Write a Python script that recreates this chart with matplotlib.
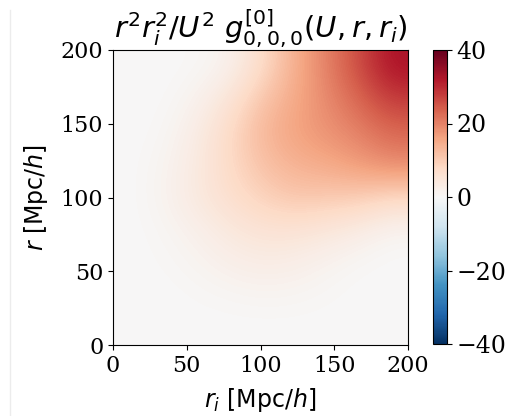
import matplotlib
matplotlib.use("Agg")
import matplotlib.pyplot as plt
from matplotlib.lines import Line2D
import numpy as np

plt.rcParams['font.family'] = 'DejaVu Serif'
plt.rcParams['mathtext.fontset'] = 'dejavusans'

# grid nodes (Mpc/h) and values, rows = r, cols = r_i
r_nodes = [0, 25, 50, 75, 100, 125, 150, 175, 200]
ri_nodes = [0, 25, 50, 75, 100, 125, 150, 175, 200]
g000 = [
    [0, 0,   0,   0,   0,   0,   0,   0,   0],
    [0, 0,   0.3, 0.6, 0.9, 0.8, 0.4, 0,   0],
    [0, 0.3, 1,   2.2, 3,   2.6, 1.4, 0.4, 0],
    [0, 0.6, 2,   4,   5.5, 5.5, 4.5, 3,   1],
    [0, 1.2, 3.8, 6.5, 9,   11,  10.5, 10, 8],
    [0, 1,   3.5, 7.5, 11.5, 14, 15,  17,  19],
    [0, 0.4, 2.8, 7.5, 13,  16,  18,  20,  23],
    [0, 0.1, 1.4, 5,   11,  15,  19,  23,  28],
    [0, 0,   0.3, 1.5, 7,   14,  20,  26,  33],
]
cbar_ticks = [-40, -20, 0, 20, 40]

fig = plt.figure(figsize=(5.14, 4.16), dpi=100)
ax = fig.add_axes([113/514, 71/416, 295/514, 295/416])
cax = fig.add_axes([433/514, 72/416, 14/514, 294/416])

im = ax.imshow(np.array(g000), origin='lower', cmap='RdBu_r', vmin=-40, vmax=40,
               extent=[ri_nodes[0], ri_nodes[-1], r_nodes[0], r_nodes[-1]],
               interpolation='bicubic', aspect='auto')
ax.set_xlim(0, 200)
ax.set_ylim(0, 200)
ax.set_xticks([0, 50, 100, 150, 200])
ax.set_yticks([0, 50, 100, 150, 200])
ax.tick_params(labelsize=16)
ax.set_xlabel(r'$r_i\ [\mathrm{Mpc}/h]$', fontsize=17, labelpad=7)
ax.set_ylabel(r'$r\ [\mathrm{Mpc}/h]$', fontsize=17, labelpad=8)
ax.set_title(r'$r^2 r_i^2/U^2\ g^{[0]}_{0,0,0}(U,r,r_i)$', fontsize=21, pad=8)

cb = fig.colorbar(im, cax=cax, ticks=cbar_ticks)
cb.ax.tick_params(labelsize=17)

# faint edge of the neighbouring panel on the left
fig.add_artist(Line2D([10/514, 10/514], [0, 406/416], color='#ececec', lw=1))

fig.savefig('out.png', dpi=100)
